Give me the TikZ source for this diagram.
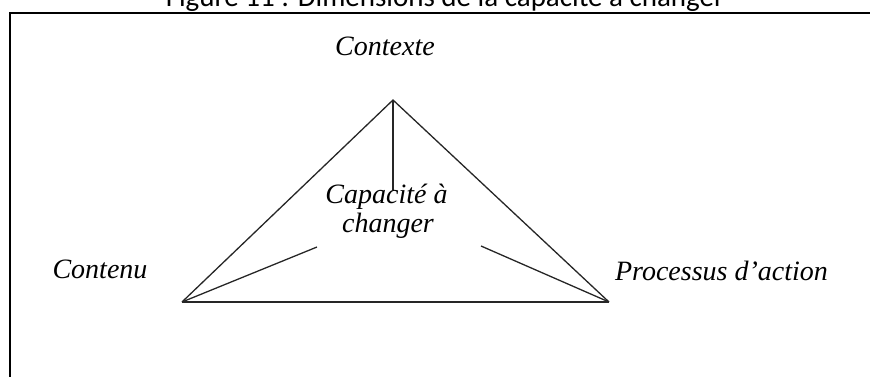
\documentclass[tikz,border=0pt]{standalone}
\usepackage{fontspec}
\setmainfont{Liberation Serif}
\newfontfamily\capfont{Carlito}
\begin{document}
\begin{tikzpicture}[x=1pt,y=-1pt,
  lbl/.style={font=\fontsize{28}{29}\selectfont\itshape, inner sep=0pt, anchor=base},
  tri/.style={line width=1.3pt, draw=black!85},
  frameline/.style={line width=2pt, draw=black}]
\useasboundingbox (0,0) rectangle (870,376);
\clip (0,0) rectangle (870,376);
% caption (cut off at the top)
\node[font=\fontsize{29}{30}\selectfont\capfont, inner sep=0pt, anchor=base] (caption) at (445,6) {Figure 11 : Dimensions de la capacité à changer};
% frame
\coordinate (fbl) at (10,400);
\coordinate (ftl) at (10,12.7);
\coordinate (ftr) at (890,12.7);
\draw[frameline] (fbl) -- (ftl) -- (ftr);
% triangle
\coordinate (apex) at (393,100);
\coordinate (left) at (182,302);
\coordinate (right) at (609,302);
\coordinate (vend) at (393,190);
\coordinate (lend) at (317,247);
\coordinate (rend) at (481,246);
\draw[tri] (left) -- (apex) -- (right);
\draw[tri] (left) -- (right);
\draw[tri] (apex) -- (vend);
\draw[tri] (left) -- (lend);
\draw[tri] (rend) -- (right);
% labels
\node[lbl] (contexte) at (385,55) {Contexte};
\node[lbl] (cap1) at (386.5,203) {Capacité à};
\node[lbl] (cap2) at (388,232) {changer};
\node[lbl] (contenu) at (100,278) {Contenu};
\node[lbl] (processus) at (721.5,280) {Processus d’action};
\end{tikzpicture}
\end{document}
